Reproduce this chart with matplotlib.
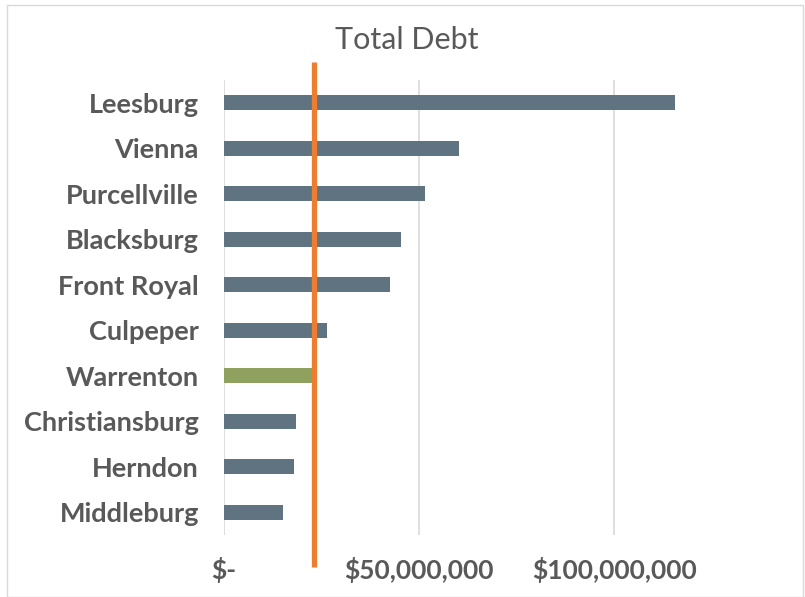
import matplotlib.pyplot as plt
from matplotlib.patches import Rectangle

# data
towns = ["Leesburg", "Vienna", "Purcellville", "Blacksburg", "Front Royal",
         "Culpeper", "Warrenton", "Christiansburg", "Herndon", "Middleburg"]
debt = [115.6e6, 60.3e6, 51.6e6, 45.3e6, 42.5e6,
        26.5e6, 22.5e6, 18.5e6, 18.1e6, 15.2e6]
highlight = "Warrenton"
average = 23.1e6
xticks = [0, 50e6, 100e6]
xtick_labels = ["$-", "$50,000,000", "$100,000,000"]

plt.rcParams['font.family'] = ['Lato', 'DejaVu Sans']

fig = plt.figure(figsize=(8.05, 5.97), dpi=100)
ax = fig.add_axes([0.278, 0.104, 0.697, 0.762])

colors = ["#8FA15F" if t == highlight else "#5F7480" for t in towns]
ypos = list(range(len(towns)))
ax.barh(ypos, debt, height=0.33, color=colors, zorder=2)
ax.set_ylim(len(towns) - 0.5, -0.5)
ax.set_xlim(0, 143.7e6)

# average line, runs past the plot area
ax.plot([average, average], [-0.9, len(towns) + 0.2], color="#ED7D31",
        lw=3.8, clip_on=False, zorder=3, solid_capstyle="butt")

ax.set_yticks(ypos)
ax.set_yticklabels(towns, fontsize=19.5, fontweight="bold", color="#595959")
ax.set_xticks(xticks)
ax.set_xticklabels(xtick_labels, fontsize=19, fontweight="bold", color="#595959")
ax.tick_params(axis="y", length=0, pad=18)
ax.tick_params(axis="x", length=0, pad=16)

ax.grid(axis="x", color="#D9D9D9", lw=1.2, zorder=0)
for s in ax.spines.values():
    s.set_visible(False)

fig.text(0.505, 0.933, "Total Debt", ha="center", va="center",
         fontsize=22, color="#595959")

# chart border
fig.patches.append(Rectangle((0.009, 0.0), 0.988, 0.991, transform=fig.transFigure,
                             fill=False, edgecolor="#D9D9D9", lw=1))

fig.savefig("out.png", dpi=100)
